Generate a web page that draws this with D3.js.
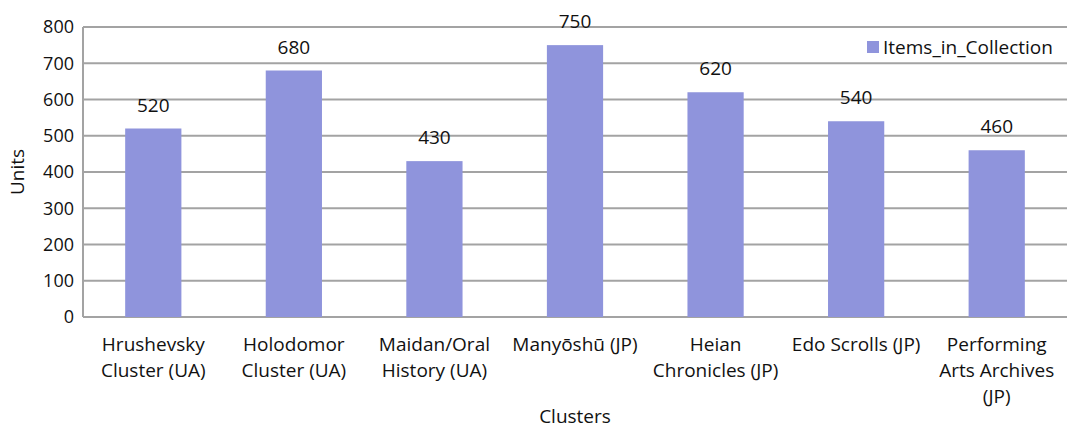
<!DOCTYPE html>
<meta charset="utf-8">
<script src="https://d3js.org/d3.v7.min.js"></script>
<style>
  body { margin: 0; background: #fff; }
  text { font-family: "Open Sans", "Noto Sans", sans-serif; fill: #111; }
</style>
<div id="my_dataviz"></div>
<script>
  // data
  var clusters = ["Hrushevsky Cluster (UA)", "Holodomor Cluster (UA)", "Maidan/Oral History (UA)",
                  "Manyōshū (JP)", "Heian Chronicles (JP)", "Edo Scrolls (JP)", "Performing Arts Archives (JP)"];
  var labelLines = [["Hrushevsky", "Cluster (UA)"], ["Holodomor", "Cluster (UA)"], ["Maidan/Oral", "History (UA)"],
                    ["Manyōshū (JP)"], ["Heian", "Chronicles (JP)"], ["Edo Scrolls (JP)"], ["Performing", "Arts Archives", "(JP)"]];
  var items = [520, 680, 430, 750, 620, 540, 460];
  var yTicks = [0, 100, 200, 300, 400, 500, 600, 700, 800];
  var seriesName = "Items_in_Collection";

  var W = 1067, H = 430;
  var margin = {top: 27, right: 0, bottom: 113, left: 83},
      width = W - margin.left - margin.right,
      height = H - margin.top - margin.bottom;

  var svg = d3.select("#my_dataviz")
    .append("svg")
      .attr("width", W)
      .attr("height", H)
    .append("g")
      .attr("transform", "translate(" + margin.left + "," + margin.top + ")");

  var x = d3.scaleBand()
    .domain(clusters)
    .range([0, width])
    .paddingInner(0.6)
    .paddingOuter(0.3);

  var y = d3.scaleLinear()
    .domain([0, 800])
    .range([height, 0]);

  // gridlines
  svg.append("g")
    .selectAll("line")
    .data(yTicks)
    .enter()
    .append("line")
      .attr("x1", 0)
      .attr("x2", width)
      .attr("y1", function(d) { return y(d); })
      .attr("y2", function(d) { return y(d); })
      .attr("stroke", "#a3a3a3")
      .attr("stroke-width", 2);

  // y axis line
  svg.append("line")
    .attr("x1", 0).attr("x2", 0)
    .attr("y1", 0).attr("y2", height)
    .attr("stroke", "#a3a3a3")
    .attr("stroke-width", 2);

  // y tick labels
  svg.append("g")
    .selectAll("text")
    .data(yTicks)
    .enter()
    .append("text")
      .attr("x", -9)
      .attr("y", function(d) { return y(d); })
      .attr("dy", "0.35em")
      .attr("text-anchor", "end")
      .style("font-size", "18px")
      .text(function(d) { return d; });

  // bars
  svg.append("g")
    .selectAll("rect")
    .data(items)
    .enter()
    .append("rect")
      .attr("x", function(d, i) { return x(clusters[i]); })
      .attr("y", function(d) { return y(d); })
      .attr("width", x.bandwidth())
      .attr("height", function(d) { return height - y(d); })
      .attr("fill", "#8f94dc");

  // value labels
  svg.append("g")
    .selectAll("text")
    .data(items)
    .enter()
    .append("text")
      .attr("x", function(d, i) { return x(clusters[i]) + x.bandwidth() / 2; })
      .attr("y", function(d) { return y(d) - 17; })
      .attr("text-anchor", "middle")
      .style("font-size", "19px")
      .text(function(d) { return d; });

  // x labels
  var xl = svg.append("g")
    .selectAll("text")
    .data(labelLines)
    .enter()
    .append("text")
      .attr("text-anchor", "middle")
      .style("font-size", "19px")
      .attr("transform", function(d, i) {
        return "translate(" + (x(clusters[i]) + x.bandwidth() / 2) + "," + (height + 34) + ")";
      });
  xl.selectAll("tspan")
    .data(function(d) { return d; })
    .enter()
    .append("tspan")
      .attr("x", 0)
      .attr("y", function(d, j) { return j * 26; })
      .text(function(d) { return d; });

  // axis titles
  svg.append("text")
    .attr("x", width / 2)
    .attr("y", height + 106)
    .attr("text-anchor", "middle")
    .style("font-size", "19px")
    .text("Clusters");

  svg.append("text")
    .attr("transform", "translate(" + (-59) + "," + (height / 2) + ") rotate(-90)")
    .attr("text-anchor", "middle")
    .style("font-size", "19px")
    .text("Units");

  // legend
  var legend = svg.append("g")
    .attr("transform", "translate(" + (width - 200) + "," + 14 + ")");
  legend.append("rect")
    .attr("width", 12)
    .attr("height", 12)
    .attr("fill", "#8f94dc");
  legend.append("text")
    .attr("x", 16)
    .attr("y", 6)
    .attr("dy", "0.35em")
    .style("font-size", "19px")
    .text(seriesName);
</script>
